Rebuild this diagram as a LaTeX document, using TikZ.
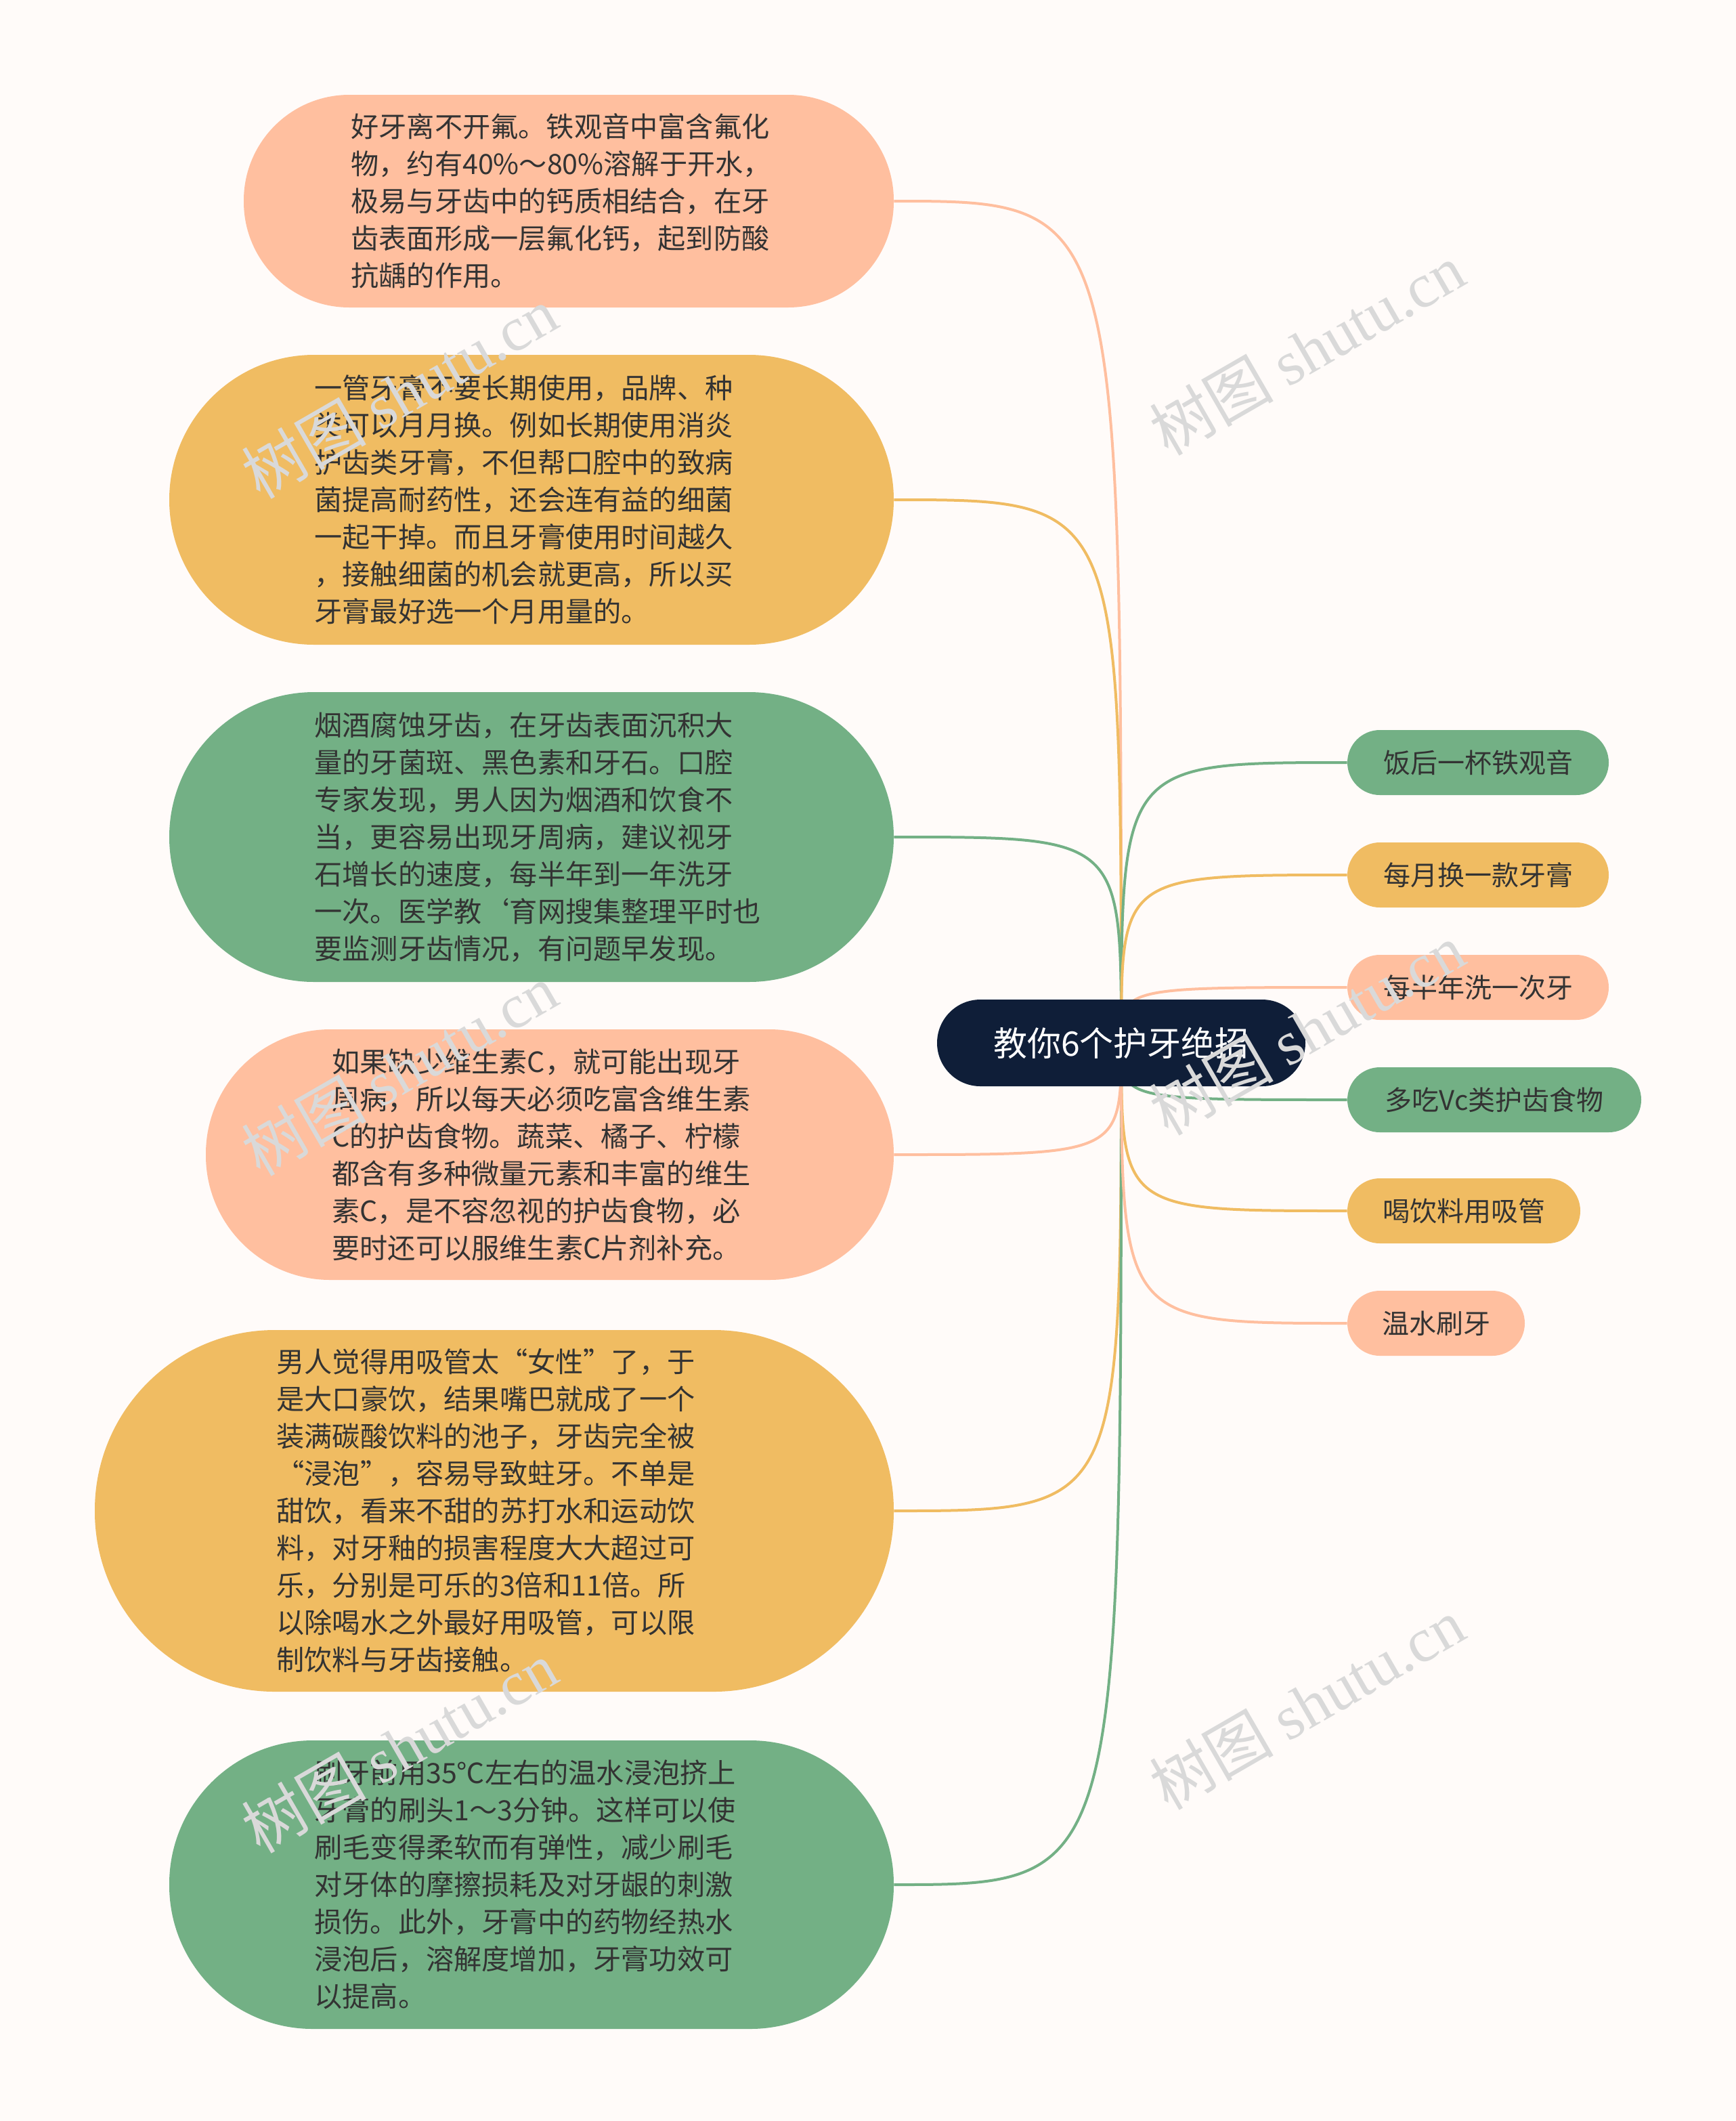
\documentclass[tikz,border=0pt]{standalone}
\usepackage{fontspec}
\setmainfont{Noto Sans CJK SC}
\newfontfamily\wmfont{Liberation Serif}
\newfontfamily\cjkfont{Noto Sans CJK SC}
\definecolor{bg}{HTML}{FFFBF9}
\definecolor{sal}{HTML}{FFBF9F}
\definecolor{gold}{HTML}{F0BC62}
\definecolor{grn}{HTML}{73B085}
\definecolor{navy}{HTML}{0F1E38}
\definecolor{txt}{HTML}{333333}
\begin{document}
\begin{tikzpicture}[x=1pt,y=-1pt,
 pill/.style={rounded corners=#1, inner sep=0pt},
 btxt/.style={anchor=west, align=left, text=txt, font=\fontsize{20.6}{27.5}\selectfont, inner sep=0pt},
 stxt/.style={text=txt, font=\fontsize{20}{24}\selectfont, inner sep=0pt},
 wm/.style={text=black!15, font=\fontsize{46}{46}\selectfont, rotate=30},
 link/.style={line width=2pt}]
\fill[bg] (0,0) rectangle (1282,1566);
\useasboundingbox (0,0) rectangle (1282,1566);
% right nodes
\node[pill=24pt, fill=grn, minimum width=193pt, minimum height=48pt] (R1) at (1091.5,563) {};
\node[stxt] at (R1) {饭后一杯铁观音};
\node[pill=24pt, fill=gold, minimum width=193pt, minimum height=48pt] (R2) at (1091.5,646) {};
\node[stxt] at (R2) {每月换一款牙膏};
\node[pill=24pt, fill=sal, minimum width=193pt, minimum height=48pt] (R3) at (1091.5,729) {};
\node[stxt] at (R3) {每半年洗一次牙};
\node[pill=24pt, fill=grn, minimum width=217pt, minimum height=48pt] (R4) at (1103.5,812) {};
\node[stxt] at (R4) {多吃Vc类护齿食物};
\node[pill=24pt, fill=gold, minimum width=172pt, minimum height=48pt] (R5) at (1081,894) {};
\node[stxt] at (R5) {喝饮料用吸管};
\node[pill=24pt, fill=sal, minimum width=131pt, minimum height=48pt] (R6) at (1060.5,977) {};
\node[stxt] at (R6) {温水刷牙};
% left nodes
\node[pill=78pt, fill=sal, minimum width=480pt, minimum height=157pt] (A) at (420,148.5) {};
\node[btxt] at (259,148.5) {好牙离不开氟。铁观音中富含氟化\\物，约有40\%～80\%溶解于开水，\\极易与牙齿中的钙质相结合，在牙\\齿表面形成一层氟化钙，起到防酸\\抗龋的作用。};
\node[pill=107pt, fill=gold, minimum width=535pt, minimum height=214pt] (B) at (392.5,369) {};
\node[btxt] at (232,369) {一管牙膏不要长期使用，品牌、种\\类可以月月换。例如长期使用消炎\\护齿类牙膏，不但帮口腔中的致病\\菌提高耐药性，还会连有益的细菌\\一起干掉。而且牙膏使用时间越久\\，接触细菌的机会就更高，所以买\\牙膏最好选一个月用量的。};
\node[pill=107pt, fill=grn, minimum width=535pt, minimum height=214pt] (Cn) at (392.5,618) {};
\node[btxt] at (232,618) {烟酒腐蚀牙齿，在牙齿表面沉积大\\量的牙菌斑、黑色素和牙石。口腔\\专家发现，男人因为烟酒和饮食不\\当，更容易出现牙周病，建议视牙\\石增长的速度，每半年到一年洗牙\\一次。医学教`育网搜集整理平时也\\要监测牙齿情况，有问题早发现。};
\node[pill=92pt, fill=sal, minimum width=508pt, minimum height=185pt] (D) at (406,852.5) {};
\node[btxt] at (245,852.5) {如果缺少维生素C，就可能出现牙\\周病，所以每天必须吃富含维生素\\C的护齿食物。蔬菜、橘子、柠檬\\都含有多种微量元素和丰富的维生\\素C，是不容忽视的护齿食物，必\\要时还可以服维生素C片剂补充。};
\node[pill=133pt, fill=gold, minimum width=590pt, minimum height=267pt] (E) at (365,1115.5) {};
\node[btxt] at (204,1115.5) {男人觉得用吸管太“女性”了，于\\是大口豪饮，结果嘴巴就成了一个\\装满碳酸饮料的池子，牙齿完全被\\“浸泡”，容易导致蛀牙。不单是\\甜饮，看来不甜的苏打水和运动饮\\料，对牙釉的损害程度大大超过可\\乐，分别是可乐的3倍和11倍。所\\以除喝水之外最好用吸管，可以限\\制饮料与牙齿接触。};
\node[pill=106pt, fill=grn, minimum width=535pt, minimum height=213pt] (F) at (392.5,1391.5) {};
\node[btxt] at (232,1391.5) {刷牙前用35℃左右的温水浸泡挤上\\牙膏的刷头1～3分钟。这样可以使\\刷毛变得柔软而有弹性，减少刷毛\\对牙体的摩擦损耗及对牙龈的刺激\\损伤。此外，牙膏中的药物经热水\\浸泡后，溶解度增加，牙膏功效可\\以提高。};
% links
\coordinate (o) at (828,770);
\draw[link,sal] (o) .. controls (828,148.5) .. (A.east);
\draw[link,gold] (o) .. controls (828,369) .. (B.east);
\draw[link,grn] (o) .. controls (828,618) .. (Cn.east);
\draw[link,sal] (o) .. controls (828,852.5) .. (D.east);
\draw[link,gold] (o) .. controls (828,1115.5) .. (E.east);
\draw[link,grn] (o) .. controls (828,1391.5) .. (F.east);
\draw[link,grn] (o) .. controls (828,563) .. (R1.west);
\draw[link,gold] (o) .. controls (828,646) .. (R2.west);
\draw[link,sal] (o) .. controls (828,729) .. (R3.west);
\draw[link,grn] (o) .. controls (828,812) .. (R4.west);
\draw[link,gold] (o) .. controls (828,894) .. (R5.west);
\draw[link,sal] (o) .. controls (828,977) .. (R6.west);
% center
\node[pill=32pt, fill=navy, minimum width=272pt, minimum height=64pt] (C) at (828,770) {};
\node[text=white, font=\fontsize{25}{28}\selectfont] (Ct) at (828,770) {教你6个护牙绝招};
% watermarks
\node[wm] at (295,290) {{\cjkfont 树图} \wmfont shutu.cn};
\node[wm] at (965,258) {{\cjkfont 树图} \wmfont shutu.cn};
\node[wm] at (295,790) {{\cjkfont 树图} \wmfont shutu.cn};
\node[wm] at (965,760) {{\cjkfont 树图} \wmfont shutu.cn};
\node[wm] at (295,1290) {{\cjkfont 树图} \wmfont shutu.cn};
\node[wm] at (965,1258) {{\cjkfont 树图} \wmfont shutu.cn};
\end{tikzpicture}
\end{document}
